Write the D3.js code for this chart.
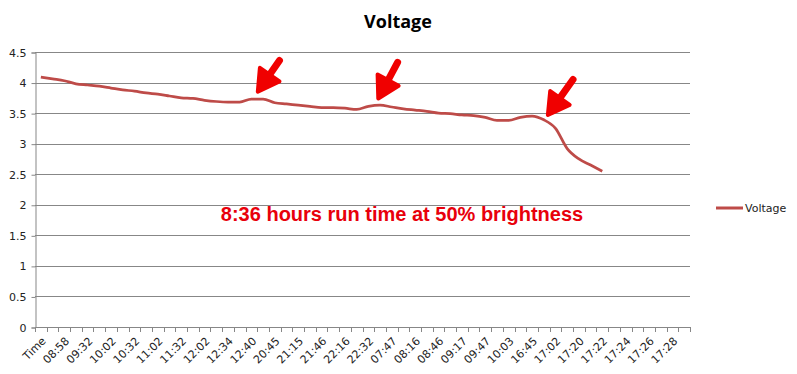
<!DOCTYPE html>
<html>
<head>
<meta charset="utf-8">
<script src="https://cdn.jsdelivr.net/npm/d3@7"></script>
<style>
body { margin:0; background:#fff; }
</style>
</head>
<body>
<div id="chart"></div>
<script>

// Data

var nCats = 56;

var tickLabels = ["Time","08:58","09:32","10:02","10:32","11:02","11:32","12:02","12:34","12:40",
	"20:45","21:15","21:46","22:16","22:32","07:47","08:16","08:46","09:17","09:47",
	"10:03","16:45","17:02","17:20","17:22","17:24","17:26","17:28"];

var voltage = [4.09,4.06,4.03,3.98,3.96,3.94,3.91,3.88,3.86,3.83,
	3.81,3.78,3.75,3.74,3.71,3.69,3.68,3.68,3.73,3.73,
	3.67,3.65,3.63,3.61,3.59,3.59,3.58,3.56,3.61,3.63,
	3.60,3.57,3.55,3.53,3.50,3.49,3.47,3.46,3.43,3.38,
	3.38,3.43,3.45,3.39,3.25,2.92,2.75,2.65,2.55];

var yTicks = [0,0.5,1,1.5,2,2.5,3,3.5,4,4.5];

// arrows: [tail, tip] in category index / voltage units
var arrows = [[20.4,4.36,18.55,3.85],[30.5,4.33,28.85,3.74],[45.5,4.05,43.35,3.47]];

var W = 797, H = 374;
var pLeft = 35, pRight = 690, pTop = 52, pBottom = 327;

var svg = d3.select("#chart").append("svg")
	.attr("width",W).attr("height",H)
	.style("font-family","'DejaVu Sans', Verdana, sans-serif");

var x = d3.scaleBand().domain(d3.range(nCats)).range([pLeft,pRight]);
var y = d3.scaleLinear().domain([0,4.5]).range([pBottom,pTop]);
var xc = function(i){ return x(i)+x.bandwidth()/2 };

// title
svg.append("text").attr("x",398).attr("y",28).attr("text-anchor","middle")
	.style("font-family","'Open Sans', sans-serif").style("font-weight","bold").style("font-size","18px")
	.text("Voltage");

// gridlines + y axis
svg.append("g").selectAll("line").data(yTicks.slice(1)).enter().append("line")
	.attr("x1",pLeft).attr("x2",pRight)
	.attr("y1",function(d){return Math.round(y(d))+0.5}).attr("y2",function(d){return Math.round(y(d))+0.5})
	.style("stroke","#878787").style("stroke-width",1);

var yAxis = svg.append("g").attr("transform","translate("+(pLeft+0.5)+",0.5)")
	.call(d3.axisLeft(y).tickValues(yTicks).tickSize(4).tickPadding(5).tickFormat(d3.format("")));
yAxis.select(".domain").style("stroke","#878787");
yAxis.selectAll(".tick line").style("stroke","#878787");
yAxis.selectAll("text").style("font-size","11px").style("fill","#222").style("font-family","'DejaVu Sans', sans-serif");

// x axis
var bounds = d3.range(nCats+1).map(function(i){ return pLeft + i*x.bandwidth() });
svg.append("line").attr("x1",pLeft).attr("x2",pRight).attr("y1",pBottom+0.5).attr("y2",pBottom+0.5)
	.style("stroke","#878787");
svg.append("g").selectAll("line").data(bounds).enter().append("line")
	.attr("x1",function(d){return Math.round(d)+0.5}).attr("x2",function(d){return Math.round(d)+0.5})
	.attr("y1",pBottom).attr("y2",pBottom+5)
	.style("stroke","#878787");

svg.append("g").selectAll("text").data(tickLabels).enter().append("text")
	.attr("transform",function(d,i){ return "translate("+(xc(2*i)+3)+","+(pBottom+12)+")rotate(-45)" })
	.attr("text-anchor","end").attr("dy","0.35em")
	.style("font-size","11px").style("fill","#222")
	.text(function(d){return d});

// line
var line = d3.line().x(function(d,i){return xc(i)}).y(function(d){return y(d)}).curve(d3.curveMonotoneX);
svg.append("path").datum(voltage).attr("d",line)
	.style("fill","none").style("stroke","#BE4B48").style("stroke-width",2.75).style("stroke-linejoin","round");

// legend
svg.append("line").attr("x1",716).attr("x2",743).attr("y1",208).attr("y2",208)
	.style("stroke","#BE4B48").style("stroke-width",3);
svg.append("text").attr("x",745).attr("y",212).style("font-size","11px").style("fill","#222")
	.style("font-family","'DejaVu Sans', sans-serif").text("Voltage");

// annotation
svg.append("text").attr("x",402).attr("y",221).attr("text-anchor","middle")
	.style("font-family","'Liberation Sans', Arial, sans-serif").style("font-weight","bold")
	.style("font-size","20px").style("fill","#E8000B")
	.text("8:36 hours run time at 50% brightness");

// hand drawn arrows
arrows.forEach(function(a){
	var x0 = xc(0) + a[0]*x.bandwidth(), y0 = y(a[1]);
	var x1 = xc(0) + a[2]*x.bandwidth(), y1 = y(a[3]);
	var ang = Math.atan2(y1-y0, x1-x0);
	var len = 24, wing = 0.52;
	var bx = x1 - len*Math.cos(ang), by = y1 - len*Math.sin(ang);
	var p1 = [x1 - len*Math.cos(ang-wing), y1 - len*Math.sin(ang-wing)];
	var p2 = [x1 - len*Math.cos(ang+wing), y1 - len*Math.sin(ang+wing)];
	svg.append("line").attr("x1",x0).attr("y1",y0).attr("x2",bx+4*Math.cos(ang)).attr("y2",by+4*Math.sin(ang))
		.style("stroke","#F00000").style("stroke-width",7).style("stroke-linecap","round");
	svg.append("path").attr("d","M"+x1+","+y1+"L"+p1+"L"+p2+"Z")
		.style("fill","#F00000").style("stroke","#F00000").style("stroke-width",4).style("stroke-linejoin","round");
});

</script>
</body>
</html>
